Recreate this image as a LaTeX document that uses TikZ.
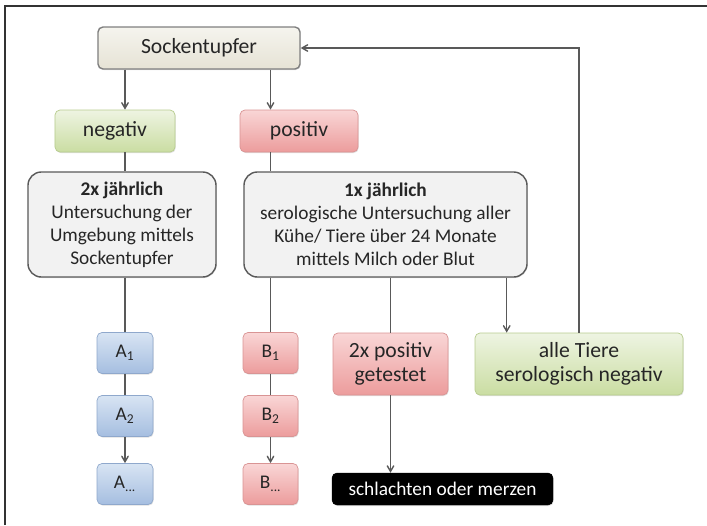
\documentclass[tikz,border=0pt]{standalone}
\usepackage{fontspec}
\setmainfont{Carlito}
\usepackage{tikz}
\usetikzlibrary{calc}
\usetikzlibrary{arrows}
\usetikzlibrary{shadows}

\definecolor{linie}{HTML}{595959}
\definecolor{rahmen}{HTML}{7F7F7F}
\definecolor{sockoben}{HTML}{F5F4EE}
\definecolor{sockunten}{HTML}{E6E3D5}
\definecolor{gruenoben}{HTML}{EEF4E2}
\definecolor{gruenunten}{HTML}{CADDA2}
\definecolor{gruenrand}{HTML}{B7CC8E}
\definecolor{rotoben}{HTML}{F9D6D6}
\definecolor{rotunten}{HTML}{EC9C9C}
\definecolor{rotrand}{HTML}{D99494}
\definecolor{blauoben}{HTML}{D8E4F3}
\definecolor{blauunten}{HTML}{A5BEE0}
\definecolor{blaurand}{HTML}{8FA8CC}
\definecolor{grau}{HTML}{F2F2F2}
\definecolor{schrift}{HTML}{262626}

\begin{document}
\begin{tikzpicture}[x=0.03cm,y=-0.03cm,>=angle 60,
        box/.style={rectangle,rounded corners=1.5mm,inner sep=0pt,align=center,text=schrift,
          drop shadow={opacity=0.25,shadow xshift=0.6pt,shadow yshift=-0.9pt}},
        sockbox/.style={box,draw=rahmen,line width=1.2pt,top color=sockoben,bottom color=sockunten,
          minimum width=6.06cm,minimum height=1.26cm,font=\fontsize{18.5}{21}\selectfont},
        gruen/.style={box,draw=gruenrand,line width=0.6pt,top color=gruenoben,bottom color=gruenunten,
          font=\fontsize{18.5}{21}\selectfont},
        rot/.style={box,draw=rotrand,line width=0.6pt,top color=rotoben,bottom color=rotunten,
          font=\fontsize{18.5}{21}\selectfont},
        blau/.style={box,draw=blaurand,line width=0.6pt,top color=blauoben,bottom color=blauunten,
          minimum width=1.68cm,minimum height=1.23cm,font=\fontsize{16.5}{19}\selectfont},
        klein/.style={rot,minimum width=1.65cm,minimum height=1.23cm,font=\fontsize{16.5}{19}\selectfont},
        info/.style={box,draw=linie,line width=1.2pt,fill=grau,rounded corners=4mm,
          minimum height=3.15cm,font=\fontsize{16.5}{19.5}\selectfont},
        arr/.style={->,draw=linie,line width=1.2pt},
        lin/.style={-,draw=linie,line width=1.2pt}
      ]
      \useasboundingbox (0,0) rectangle (707,525);
      % frame
      \draw[line width=1.5pt,black!80] (5,525) -- (5,6) -- (707,6);

      \node[sockbox] (sock) at (199,48) {Sockentupfer};
      \node[gruen,minimum width=3.6cm,minimum height=1.26cm] (neg) at (115,131) {negativ};
      \node[rot,minimum width=3.54cm,minimum height=1.26cm] (pos) at (299,131) {positiv};
      \node[info,minimum width=5.64cm] (halb) at (122,224.5)
        {\textbf{2x jährlich}\\Untersuchung der\\Umgebung mittels\\Sockentupfer};
      \node[info,minimum width=8.49cm] (jahr) at (385.5,224.5)
        {\textbf{1x jährlich}\\serologische Untersuchung aller\\Kühe/ Tiere über 24 Monate\\mittels Milch oder Blut};

      \node[blau] (a1) at (125,353) {A\textsubscript{1}};
      \node[blau] (a2) at (125,416) {A\textsubscript{2}};
      \node[blau] (a3) at (125,484) {A\textsubscript{...}};
      \node[klein] (b1) at (270.5,353) {B\textsubscript{1}};
      \node[klein] (b2) at (270.5,416) {B\textsubscript{2}};
      \node[klein] (b3) at (270.5,484) {B\textsubscript{...}};

      \node[rot,minimum width=3.45cm,minimum height=1.86cm] (dopp) at (390.5,364) {2x positiv\\getestet};
      \node[gruen,minimum width=6.24cm,minimum height=1.86cm] (alle) at (579,364) {alle Tiere\\serologisch negativ};
      \node[box,fill=black,draw=black,text=white,minimum width=6.63cm,minimum height=0.96cm,
        font=\fontsize{16.5}{19}\selectfont] (schl) at (442.5,489) {schlachten oder merzen};

      % connectors
      \draw[arr] (sock.south -| a1.north) -- (neg.north -| a1.north);
      \draw[arr] (sock.south -| b1.north) -- (pos.north -| b1.north);
      \draw[lin] (neg.south -| a1.north) -- (halb.north -| a1.north);
      \draw[lin] (pos.south -| b1.north) -- (jahr.north -| b1.north);
      \draw[lin] (halb.south -| a1.north) -- (a1.north);
      \draw[lin] (a1) -- (a2);
      \draw[arr] (a2) -- (a3);
      \draw[lin] (jahr.south -| b1.north) -- (b1.north);
      \draw[lin] (b1) -- (b2);
      \draw[arr] (b2) -- (b3);
      \draw[lin] (jahr.south -| dopp.north) -- (dopp.north);
      \draw[arr] ([xshift=-0.63cm]jahr.south east) -- ([xshift=-0.63cm]jahr.south east |- alle.north);
      \draw[arr] (alle.north) |- (sock.east);
      \draw[arr] (dopp.south) -- (dopp.south |- schl.north);
    \end{tikzpicture}
\end{document}
